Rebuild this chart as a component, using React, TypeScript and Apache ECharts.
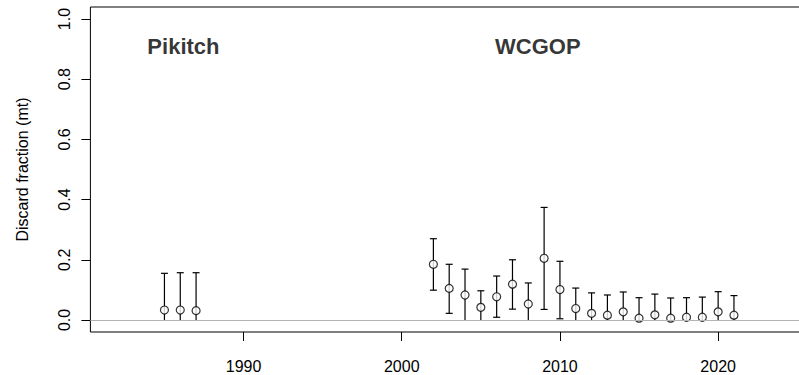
import React, { useEffect, useRef } from "react";
import * as echarts from "echarts";

// Tick positions
const xTicks = [1990, 2000, 2010, 2020];
const yTicks = [0, 0.2, 0.4, 0.6, 0.8, 1.0];

// Pikitch study years
const pikitchYears = [1985, 1986, 1987];
const pikitchMean = [0.033, 0.033, 0.031];
const pikitchLower = [0, 0, 0];
const pikitchUpper = [0.155, 0.157, 0.157];

// WCGOP observer years
const wcgopYears = [
  2002, 2003, 2004, 2005, 2006, 2007, 2008, 2009, 2010, 2011,
  2012, 2013, 2014, 2015, 2016, 2017, 2018, 2019, 2020, 2021,
];
const wcgopMean = [
  0.185, 0.105, 0.083, 0.042, 0.077, 0.119, 0.053, 0.205, 0.101, 0.038,
  0.022, 0.016, 0.027, 0.006, 0.017, 0.006, 0.009, 0.009, 0.027, 0.016,
];
const wcgopLower = [
  0.099, 0.022, 0, 0, 0.009, 0.036, 0, 0.035, 0.004, 0,
  0, 0, 0, 0, 0, 0, 0, 0, 0, 0,
];
const wcgopUpper = [
  0.27, 0.185, 0.169, 0.097, 0.146, 0.2, 0.123, 0.374, 0.195, 0.106,
  0.09, 0.083, 0.093, 0.074, 0.086, 0.073, 0.074, 0.076, 0.094, 0.081,
];

// Source labels and where they sit (year, fraction)
const sourceNames = ["Pikitch", "WCGOP"];
const sourceLabelX = [1986.2, 2008.6];
const sourceLabelY = [0.91, 0.91];

const FONT = "'Liberation Sans', Arial, Helvetica, sans-serif";

export default function App() {
  const ref = useRef<HTMLDivElement>(null);

  useEffect(() => {
    if (!ref.current) return;
    const chart = echarts.init(ref.current, null, { renderer: "svg" });

    const years = [...pikitchYears, ...wcgopYears];
    const means = [...pikitchMean, ...wcgopMean];
    const lows = [...pikitchLower, ...wcgopLower];
    const highs = [...pikitchUpper, ...wcgopUpper];

    const barData = years.map((y, i) => [y, lows[i], highs[i]]);
    const pointData = years.map((y, i) => [y, means[i]]);
    const labelData = sourceNames.map((n, i) => ({
      name: n,
      value: [sourceLabelX[i], sourceLabelY[i]],
    }));

    const CAP = 3.5;
    const stroke = { stroke: "#000", lineWidth: 1.2 };

    chart.setOption({
      animation: false,
      backgroundColor: "#fff",
      textStyle: { fontFamily: FONT },
      grid: {
        left: 90.4,
        top: 7,
        width: 717.6,
        height: 325,
        show: true,
        borderColor: "#000",
        borderWidth: 1,
        backgroundColor: "transparent",
        containLabel: false,
        outerBoundsMode: "none",
      },
      xAxis: {
        type: "value",
        min: 1980.32,
        max: 2025.68,
        splitLine: { show: false },
        axisLine: { show: false, onZero: false },
        axisTick: {
          show: true,
          customValues: xTicks,
          length: 9,
          lineStyle: { color: "#000", width: 1 },
        },
        axisLabel: {
          customValues: xTicks,
          margin: 26,
          fontSize: 16,
          color: "#000",
          fontFamily: FONT,
          formatter: (v: number) => String(v),
        },
      },
      yAxis: {
        type: "value",
        min: -0.04,
        max: 1.04,
        splitLine: { show: false },
        axisLine: { show: false, onZero: false },
        axisTick: {
          show: true,
          customValues: yTicks,
          length: 9,
          lineStyle: { color: "#000", width: 1 },
        },
        axisLabel: {
          customValues: yTicks,
          rotate: 90,
          margin: 18,
          fontSize: 16,
          color: "#000",
          fontFamily: FONT,
          formatter: (v: number) => v.toFixed(1),
        },
        name: "Discard fraction (mt)",
        nameLocation: "middle",
        nameGap: 60,
        nameTextStyle: { fontSize: 16, color: "#000", fontFamily: FONT },
      },
      series: [
        {
          type: "custom",
          name: "interval",
          z: 2,
          data: barData,
          encode: { x: 0, y: [1, 2] },
          renderItem: (params: any, api: any) => {
            const x = api.value(0);
            const lo = api.value(1);
            const hi = api.value(2);
            const top = api.coord([x, hi]);
            const bot = api.coord([x, lo]);
            const children: any[] = [
              {
                type: "line",
                shape: { x1: top[0], y1: top[1], x2: bot[0], y2: bot[1] },
                style: stroke,
              },
              {
                type: "line",
                shape: { x1: top[0] - CAP, y1: top[1], x2: top[0] + CAP, y2: top[1] },
                style: stroke,
              },
            ];
            if (lo > 0) {
              children.push({
                type: "line",
                shape: { x1: bot[0] - CAP, y1: bot[1], x2: bot[0] + CAP, y2: bot[1] },
                style: stroke,
              });
            }
            return { type: "group", children };
          },
          markLine: {
            silent: true,
            symbol: "none",
            label: { show: false },
            lineStyle: { color: "#b4b4b4", type: "solid", width: 1 },
            data: [{ yAxis: 0 }],
          },
        },
        {
          type: "scatter",
          name: "estimate",
          z: 3,
          data: pointData,
          symbol: "circle",
          symbolSize: 8,
          itemStyle: { color: "#fff", borderColor: "#000", borderWidth: 1.2 },
        },
        {
          type: "scatter",
          name: "source",
          z: 4,
          data: labelData,
          symbolSize: 0,
          label: {
            show: true,
            position: "inside",
            formatter: "{b}",
            fontSize: 22,
            fontWeight: "bold",
            color: "#000",
            fontFamily: FONT,
          },
        },
      ],
    });

    return () => chart.dispose();
  }, []);

  return (
    <div
      ref={ref}
      style={{ position: "absolute", left: 0, top: 0, width: 799, height: 375 }}
    />
  );
}
